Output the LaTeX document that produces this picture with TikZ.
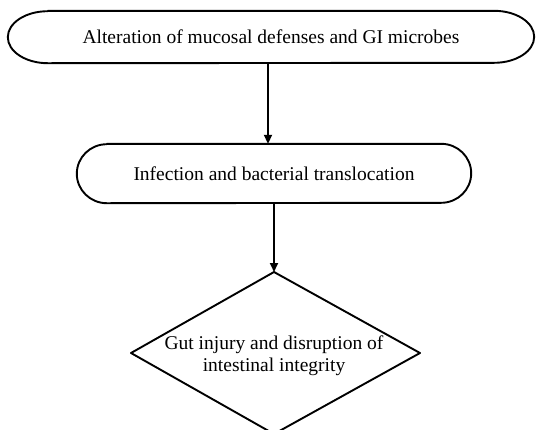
\documentclass[tikz,border=0pt]{standalone}
\usepackage{fontspec}
\setmainfont{Liberation Serif}
\usetikzlibrary{arrows.meta}
\begin{document}
\begin{tikzpicture}[x=1pt,y=-1pt,
  outline/.style={draw=black,line width=1.9pt,line join=round},
  arr/.style={draw=black,line width=1.9pt,-{Triangle[length=9pt,width=8pt]}},
  txt/.style={font=\fontsize{19.5}{22}\selectfont,align=center,inner sep=0pt}]
\useasboundingbox (0,0) rectangle (536,429);
% box 1
\node[txt,minimum width=526pt,minimum height=52pt] (b1) at (271,37) {Alteration of mucosal defenses and GI microbes};
\draw[outline] ([xshift=40pt]b1.north west) -- ([xshift=-40pt]b1.north east)
  arc[start angle=90,end angle=-90,x radius=40pt,y radius=26pt]
  -- ([xshift=40pt]b1.south west)
  arc[start angle=270,end angle=90,x radius=40pt,y radius=26pt] -- cycle;
% box 2
\node[txt,minimum width=394pt,minimum height=59pt] (b2) at (274,173.5) {Infection and bacterial translocation};
\draw[outline] ([xshift=30pt]b2.north west) -- ([xshift=-30pt]b2.north east)
  arc[start angle=90,end angle=-90,x radius=30pt,y radius=29.5pt]
  -- ([xshift=30pt]b2.south west)
  arc[start angle=270,end angle=90,x radius=30pt,y radius=29.5pt] -- cycle;
% diamond
\coordinate (dt) at (274,272);
\coordinate (dr) at (420,353);
\coordinate (db) at (274,434);
\coordinate (dl) at (131,353);
\draw[outline] (dt) -- (dr) -- (db) -- (dl) -- cycle;
\node[txt] (d) at (274,356) {Gut injury and disruption of\\intestinal integrity};
% connectors
\coordinate (c1) at (268,0);
\draw[arr] (b1.south -| c1) -- (b2.north -| c1);
\draw[arr] (b2.south -| dt) -- (dt);
\end{tikzpicture}
\end{document}
